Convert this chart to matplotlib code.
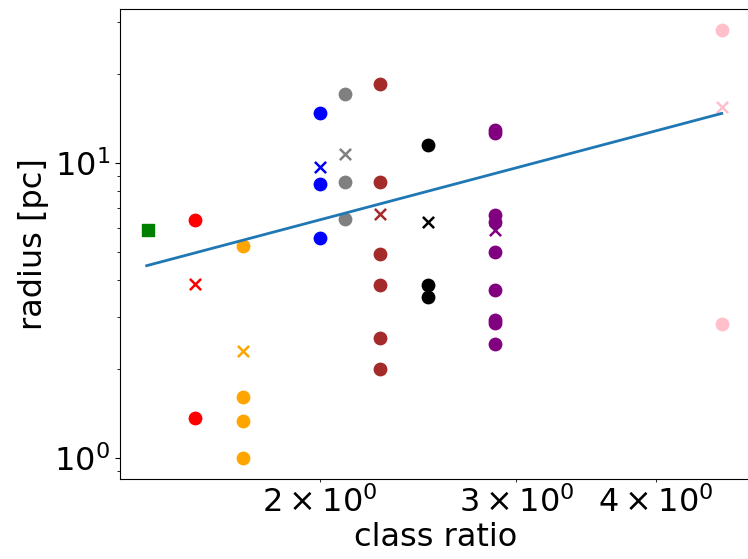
import matplotlib.pyplot as plt

# class ratio (x) and radius in pc (y), one group per colour
colors = ['green', 'red', 'orange', 'blue', 'gray', 'brown', 'black', 'purple', 'pink']
class_ratio = [1.405, 1.545, 1.707, 2.0, 2.105, 2.264, 2.501, 2.87, 4.58]

radius_points = [
    [],
    [6.41, 1.36],
    [5.23, 1.61, 1.33, 1.0],
    [14.7, 8.47, 5.58],
    [17.1, 8.64, 6.47],
    [18.5, 8.64, 4.90, 3.86, 2.55, 2.00],
    [11.5, 3.86, 3.51],
    [12.9, 12.6, 6.67, 6.28, 4.98, 3.71, 2.94, 2.86, 2.43],
    [28.2, 2.85],
]
# crosses (group mean); green only has a square
radius_mean = [5.93, 3.89, 2.31, 9.64, 10.7, 6.72, 6.28, 5.93, 15.5]

# power-law fit line end points
fit_x = [1.40, 4.58]
fit_y = [4.48, 14.7]

fig = plt.figure(figsize=(7.48, 5.59), dpi=100)
ax = fig.add_axes([0.1604, 0.1426, 0.843, 0.842])

for c, xr, pts, m in zip(colors, class_ratio, radius_points, radius_mean):
    if c == 'green':
        ax.scatter([xr], [m], color=c, marker='s', s=70)
        continue
    ax.scatter([xr] * len(pts), pts, color=c, marker='o', s=80)
    ax.scatter([xr], [m], color=c, marker='x', s=65, linewidths=1.8)

ax.plot(fit_x, fit_y, color='#1f77b4', lw=2)

ax.set_xscale('log')
ax.set_yscale('log')
ax.set_xlim(1.325, 4.86)
ax.set_ylim(0.846, 33.3)
ax.set_xlabel('class ratio', fontsize=23, labelpad=2)
ax.set_ylabel('radius [pc]', fontsize=23)
ax.tick_params(which='both', labelsize=23)

fig.savefig('out.png', dpi=100)
